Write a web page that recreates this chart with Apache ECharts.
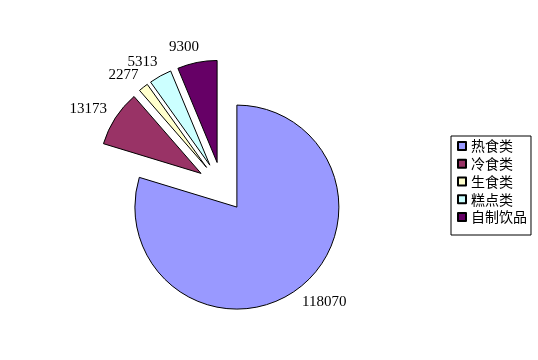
<!DOCTYPE html>
<html>
<head>
<meta charset="utf-8">
<script src="https://cdn.jsdelivr.net/npm/echarts@6/dist/echarts.min.js"></script>
<style>
html,body{margin:0;padding:0;background:#fff;}
#c{width:538px;height:360px;}
</style>
</head>
<body>
<div id="c"></div>
<script>
var categories = ['热食类', '冷食类', '生食类', '糕点类', '自制饮品'];
var values = [118070, 13173, 2277, 5313, 9300];
var colors = ['#9999FF', '#993366', '#FFFFCC', '#CCFFFF', '#660066'];

var chart = echarts.init(document.getElementById('c'), null, {renderer: 'canvas'});
var data = categories.map(function (name, i) {
  return {
    name: name,
    value: values[i],
    selected: true,
    itemStyle: {color: colors[i]}
  };
});
chart.setOption({
  backgroundColor: '#ffffff',
  animation: false,
  legend: {
    orient: 'vertical',
    left: 451,
    top: 136,
    padding: [3, 4, 11, 6],
    borderColor: '#000',
    borderWidth: 1,
    itemWidth: 8,
    itemHeight: 8,
    itemGap: 3.75,
    icon: 'rect',
    selectedMode: false,
    textStyle: {
      fontFamily: 'Noto Sans CJK SC',
      fontSize: 14,
      lineHeight: 14,
      color: '#000'
    },
    data: categories
  },
  series: [{
    type: 'pie',
    center: [222, 187],
    radius: [0, 102],
    startAngle: 90,
    clockwise: true,
    selectedMode: 'multiple',
    selectedOffset: 25,
    avoidLabelOverlap: false,
    labelLayout: {hideOverlap: false},
    emphasis: {disabled: true},
    itemStyle: {borderColor: '#000', borderWidth: 1},
    label: {
      show: true,
      position: 'outside',
      formatter: '{c}',
      fontFamily: 'Liberation Serif',
      fontSize: 15,
      lineHeight: 12,
      padding: [4, 0, 0, 0],
      color: '#000',
      distanceToLabelLine: -5
    },
    labelLine: {show: false, length: 16, length2: 0},
    data: data
  }]
});
</script>
</body>
</html>
